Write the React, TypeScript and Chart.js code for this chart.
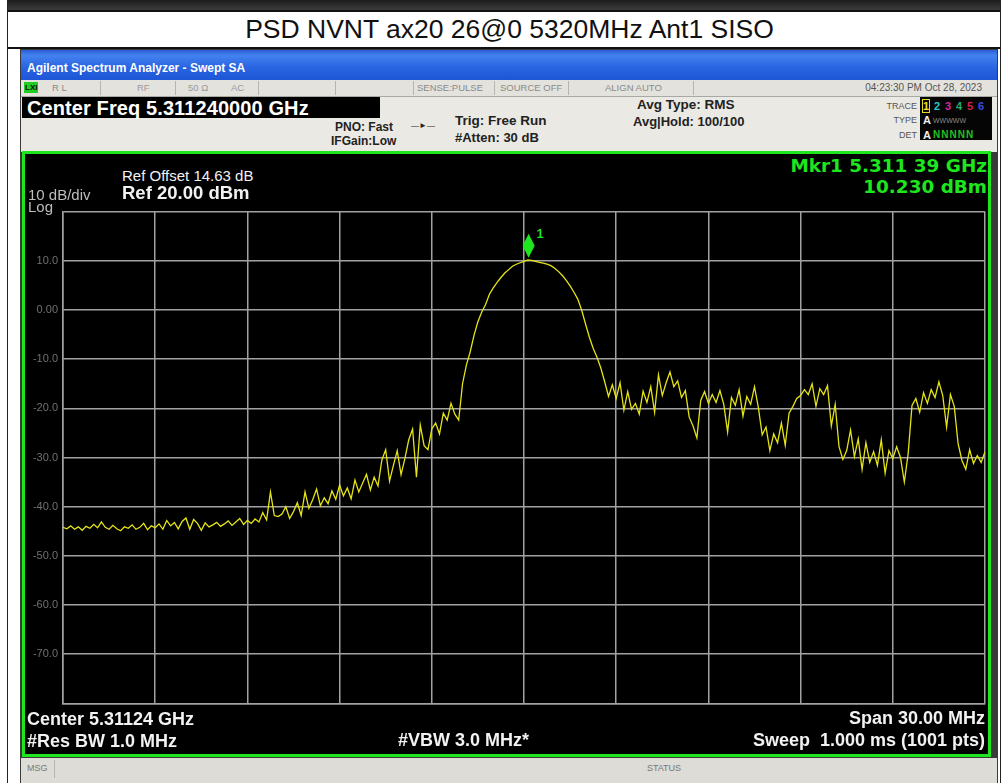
import { useEffect, useRef } from "react";
import { Chart, registerables } from "chart.js";

Chart.register(...registerables);

// ---- data ----
const sweepStartOffsetMHz = 0; // offset from 5.29624 GHz start frequency
const sweepStepMHz = 0.125;
const spanMHz = 30;
const xGridStepMHz = 3;
const refLevelDbm = 20;
const bottomLevelDbm = -80;
const dbPerDiv = 10;

const traceDbm = [
  -44.2, -44.5, -43.9, -44.6, -44.1, -44.8, -44.0, -44.4, -43.6, -44.3,
  -43.1, -44.2, -44.6, -43.8, -44.5, -44.9, -44.1, -44.4, -43.7, -44.6,
  -44.2, -43.4, -44.7, -43.9, -44.3, -43.5, -44.6, -42.8, -43.9, -43.2,
  -44.5, -43.0, -42.3, -44.6, -42.6, -43.4, -44.8, -43.3, -44.1, -43.7,
  -43.2, -44.0, -43.5, -42.9, -43.8, -43.1, -42.4, -43.6, -42.8, -43.4,
  -42.5, -43.1, -41.2, -42.7, -37.0, -41.8, -42.0, -41.5, -40.0, -42.4,
  -41.0, -39.2, -41.8, -37.0, -40.3, -38.6, -36.4, -39.8, -38.2, -39.4,
  -36.8, -38.5, -35.6, -37.8, -36.2, -38.4, -34.6, -37.0, -35.2, -33.4,
  -36.6, -34.0, -35.8, -30.5, -28.4, -34.8, -31.6, -28.6, -33.5, -30.2,
  -26.4, -24.2, -34.0, -23.4, -27.6, -28.4, -24.2, -23.0, -25.2, -21.0,
  -22.4, -19.0, -21.2, -22.4, -15.0, -11.2, -8.5, -5.1, -2.4, -0.4,
  1.1, 3.2, 4.5, 5.6, 6.6, 7.5, 8.2, 8.9, 9.3, 9.6,
  9.9, 10.2, 10.1, 9.9, 9.7, 9.5, 9.3, 9.0, 8.5, 7.8,
  7.0, 6.0, 4.9, 3.6, 2.2, 0.0, -2.8, -5.5, -7.8, -9.6,
  -11.8, -14.6, -17.6, -15.2, -18.0, -14.8, -20.4, -16.6, -20.2, -19.0,
  -21.2, -16.5, -18.8, -15.6, -20.8, -13.2, -17.4, -14.8, -12.6, -15.6,
  -14.4, -17.8, -16.4, -21.8, -23.6, -26.0, -18.4, -16.6, -19.0, -17.2,
  -18.8, -16.4, -19.2, -24.8, -17.8, -19.4, -16.2, -21.6, -17.6, -19.2,
  -15.6, -19.8, -25.4, -23.8, -28.6, -25.2, -27.0, -23.0, -27.5, -21.0,
  -19.6, -18.0, -17.4, -16.2, -17.2, -15.0, -19.6, -16.0, -17.2, -15.4,
  -23.6, -19.2, -27.8, -30.4, -28.6, -24.4, -29.8, -26.2, -32.4, -27.0,
  -31.0, -28.8, -31.6, -26.4, -33.2, -28.6, -30.2, -27.8, -30.0, -35.0,
  -29.2, -19.4, -18.0, -20.8, -16.8, -19.0, -16.2, -17.8, -14.6, -17.4,
  -23.8, -17.2, -19.6, -27.2, -30.6, -32.4, -28.4, -31.2, -29.6, -31.0, -28.8,
];

const markerOffsetMHz = 15.15;
const markerDbm = 10.23;

const yTickValues = [10, 0, -10, -20, -30, -40, -50, -60, -70];
const yTickText = ["10.0", "0.00", "-10.0", "-20.0", "-30.0", "-40.0", "-50.0", "-60.0", "-70.0"];

// ---- styling ----
const SANS = '"Liberation Sans", Arial, Helvetica, sans-serif';
const WIDE = '"DejaVu Sans", Verdana, sans-serif';
const GRID = "#a2a2a2";
const TRACE = "#e4e416";
const GREEN = "#1ee61e";

type TP = {
  x: number;
  y: number;
  s: string;
  fs: number;
  c?: string;
  b?: boolean;
  a?: "l" | "r" | "c";
  ff?: string;
  ls?: number;
};

function T({ x, y, s, fs, c = "#000", b = false, a = "l", ff = SANS, ls }: TP) {
  const style: any = {
    position: "absolute",
    top: y - fs * 0.5,
    fontSize: fs,
    lineHeight: `${fs}px`,
    fontWeight: b ? 700 : 400,
    color: c,
    whiteSpace: "pre",
    fontFamily: ff,
    letterSpacing: ls,
  };
  if (a === "l") style.left = x;
  else if (a === "r") style.right = 1004 - x;
  else {
    style.left = x;
    style.transform = "translateX(-50%)";
  }
  return <div style={style}>{s}</div>;
}

function Box(p: { l: number; t: number; w: number; h: number; bg: string; extra?: any }) {
  return (
    <div
      style={{
        position: "absolute",
        left: p.l,
        top: p.t,
        width: p.w,
        height: p.h,
        background: p.bg,
        ...(p.extra || {}),
      }}
    />
  );
}

function SpectrumChart() {
  const ref = useRef<HTMLCanvasElement>(null);
  useEffect(() => {
    const canvas = ref.current;
    if (!canvas) return;
    const markerPlugin = {
      id: "markerDiamond",
      afterDatasetsDraw(chart: any) {
        const { ctx, scales } = chart;
        const x = scales.x.getPixelForValue(markerOffsetMHz);
        const y = scales.y.getPixelForValue(markerDbm);
        const cy = y - 14;
        ctx.save();
        ctx.fillStyle = GREEN;
        ctx.beginPath();
        ctx.moveTo(x, cy - 12);
        ctx.lineTo(x + 6, cy);
        ctx.lineTo(x, cy + 12);
        ctx.lineTo(x - 6, cy);
        ctx.closePath();
        ctx.fill();
        ctx.font = `bold 13px ${SANS}`;
        ctx.textAlign = "left";
        ctx.textBaseline = "middle";
        ctx.fillText("1", x + 8, cy - 11);
        ctx.restore();
      },
    };
    const chart = new Chart(canvas, {
      type: "line",
      data: {
        datasets: [
          {
            data: traceDbm.map((v, i) => ({ x: sweepStartOffsetMHz + i * sweepStepMHz, y: v })),
            borderColor: TRACE,
            borderWidth: 1.3,
            pointRadius: 0,
            tension: 0,
            fill: false,
          },
        ],
      },
      options: {
        animation: false,
        responsive: false,
        devicePixelRatio: 1,
        layout: { padding: { left: 0, right: 2, top: 8, bottom: 10 } },
        plugins: { legend: { display: false }, tooltip: { enabled: false } },
        scales: {
          x: {
            type: "linear",
            min: 0,
            max: spanMHz,
            ticks: { stepSize: xGridStepMHz, display: false },
            grid: { color: GRID, lineWidth: 1.5, drawTicks: false },
            border: { display: true, color: GRID, width: 1.5 },
            afterFit: (s: any) => {
              s.height = 0;
            },
          },
          y: {
            min: bottomLevelDbm,
            max: refLevelDbm,
            ticks: {
              stepSize: dbPerDiv,
              color: "#707070",
              padding: 5,
              font: { size: 11, family: SANS },
              callback: (v: any) => {
                const idx = yTickValues.indexOf(Number(v));
                return idx >= 0 ? yTickText[idx] : "";
              },
            },
            grid: { color: GRID, lineWidth: 1.5, drawTicks: false },
            border: { display: true, color: GRID, width: 1.5 },
            afterFit: (s: any) => {
              s.width = 38;
            },
          },
        },
      },
      plugins: [markerPlugin],
    } as any);
    return () => chart.destroy();
  }, []);
  return (
    <canvas
      ref={ref}
      width={962}
      height={515}
      style={{ position: "absolute", left: 25, top: 200, width: 962, height: 515 }}
    />
  );
}

export default function App() {
  const seps = [100, 175, 258, 335, 413, 494, 568, 693];
  return (
    <div
      style={{
        position: "absolute",
        left: 0,
        top: 0,
        width: 1004,
        height: 783,
        overflow: "hidden",
        background: "#fff",
        fontFamily: SANS,
      }}
    >
      {/* top strip & table lines */}
      <Box l={8} t={0} w={993} h={10} bg="linear-gradient(#1c1c1c, #3c3c3c)" />
      <Box l={7} t={10} w={994} h={2} bg="#111" />
      <Box l={7} t={47} w={994} h={1.5} bg="#111" />
      <Box l={7} t={0} w={1} h={783} bg="#222" />
      <Box l={1000} t={0} w={1} h={783} bg="#222" />
      <T x={509.5} y={29} s="PSD NVNT ax20 26@0 5320MHz Ant1 SISO" fs={26.5} a="c" c="#111" />

      {/* analyzer window */}
      <Box l={20} t={49} w={978} h={734} bg="#3a3a3a" />
      <Box
        l={21}
        t={50}
        w={976}
        h={30}
        bg="linear-gradient(to bottom, #2a5cd6 0%, #4482f0 18%, #2a66e2 55%, #1d55d6 100%)"
      />
      <T x={27} y={68} s="Agilent Spectrum Analyzer - Swept SA" fs={12} b c="#fff" />

      {/* status row */}
      <Box l={21} t={80} w={976} h={16} bg="#e4e2dc" extra={{ borderBottom: "1px solid #a8a8a4" }} />
      {seps.map((sx) => (
        <Box key={sx} l={sx} t={81} w={1} h={14} bg="#b4b4b0" />
      ))}
      <Box l={24} t={82} w={14} h={11} bg="#22cc22" />
      <T x={25} y={88} s="LXI" fs={8} b c="#111" />
      <T x={52} y={88} s="R L" fs={9.5} c="#8a8a8a" />
      <T x={137} y={88} s="RF" fs={9.5} c="#9a9a9a" />
      <T x={188} y={88} s="50 Ω" fs={9.5} c="#9a9a9a" />
      <T x={231} y={88} s="AC" fs={9.5} c="#9a9a9a" />
      <T x={417} y={88} s="SENSE:PULSE" fs={9.5} c="#8a8a8a" />
      <T x={500} y={88} s="SOURCE OFF" fs={9.5} c="#8a8a8a" />
      <T x={605} y={88} s="ALIGN AUTO" fs={9.5} c="#8a8a8a" />
      <T x={982} y={88} s="04:23:30 PM Oct 28, 2023" fs={10} a="r" c="#555" />

      {/* settings row */}
      <Box l={21} t={97} w={976} h={55} bg="#ebe9e3" />
      <Box l={22} t={97} w={358} h={21} bg="#000" />
      <T x={27} y={108} s="Center Freq 5.311240000 GHz" fs={20} b c="#fff" ls={0.1} />
      <T x={335} y={127} s="PNO: Fast" fs={12} b c="#222" />
      <T x={331} y={141} s="IFGain:Low" fs={12} b c="#222" />
      <T x={411} y={126} s="—►—" fs={8} c="#222" />
      <T x={455} y={121} s="Trig: Free Run" fs={13.5} b c="#222" />
      <T x={455} y={137} s="#Atten: 30 dB" fs={13} b c="#222" />
      <T x={637} y={105} s="Avg Type: RMS" fs={13.5} b c="#222" />
      <T x={633} y={121} s="Avg|Hold: 100/100" fs={13} b c="#222" />
      <T x={917} y={106} s="TRACE" fs={9} a="r" c="#555" />
      <T x={917} y={120} s="TYPE" fs={9} a="r" c="#555" />
      <T x={917} y={135} s="DET" fs={9} a="r" c="#555" />
      <Box l={920} t={97} w={72} h={43} bg="#050505" />
      <Box l={922} t={99} w={8} h={14} bg="transparent" extra={{ border: "1px solid #e8d820", boxSizing: "border-box" }} />
      <T x={923} y={106} s="1" fs={11} b c="#f0e020" />
      <T x={934} y={106} s="2" fs={11} b c="#26c8c8" />
      <T x={945} y={106} s="3" fs={11} b c="#d02aa0" />
      <T x={956} y={106} s="4" fs={11} b c="#22b070" />
      <T x={967} y={106} s="5" fs={11} b c="#d0204a" />
      <T x={978} y={106} s="6" fs={11} b c="#3a4ae0" />
      <T x={923} y={120} s="A" fs={11} b c="#eee" />
      <T x={933} y={120} s="WWWWW" fs={7} c="#8a8a8a" />
      <T x={923} y={135} s="A" fs={11} b c="#eee" />
      <T x={933} y={135} s="NNNNN" fs={10} b c="#22c022" ls={1} />

      {/* display */}
      <Box l={22} t={151} w={969} h={606} bg="#000" extra={{ border: `3px solid ${GREEN}`, boxSizing: "border-box" }} />
      <SpectrumChart />
      <T x={122} y={175} s="Ref Offset 14.63 dB" fs={15} c="#f2f2f2" />
      <T x={122} y={193} s="Ref 20.00 dBm" fs={18.5} b c="#f2f2f2" />
      <T x={28} y={194} s="10 dB/div" fs={15} c="#bdbdbd" />
      <T x={28} y={206} s="Log" fs={15} c="#bdbdbd" />
      <T x={987} y={166} s="Mkr1 5.311 39 GHz" fs={18.4} b a="r" c={GREEN} ff={WIDE} />
      <T x={987} y={187} s="10.230 dBm" fs={18.4} b a="r" c={GREEN} ff={WIDE} />
      <T x={27} y={719} s="Center 5.31124 GHz" fs={18} b c="#f2f2f2" />
      <T x={27} y={741} s="#Res BW 1.0 MHz" fs={18} b c="#f2f2f2" />
      <T x={398} y={740} s="#VBW 3.0 MHz*" fs={18} b c="#f2f2f2" />
      <T x={985} y={718} s="Span 30.00 MHz" fs={18} b a="r" c="#f2f2f2" />
      <T x={985} y={740} s="Sweep  1.000 ms (1001 pts)" fs={18} b a="r" c="#f2f2f2" />

      {/* message bar */}
      <Box l={21} t={758} w={976} h={25} bg="#dedcd6" />
      <Box l={54} t={760} w={1} h={18} bg="#b4b4b0" />
      <T x={27} y={768} s="MSG" fs={9} c="#777" />
      <T x={664} y={768} s="STATUS" fs={9} a="c" c="#777" />
    </div>
  );
}
